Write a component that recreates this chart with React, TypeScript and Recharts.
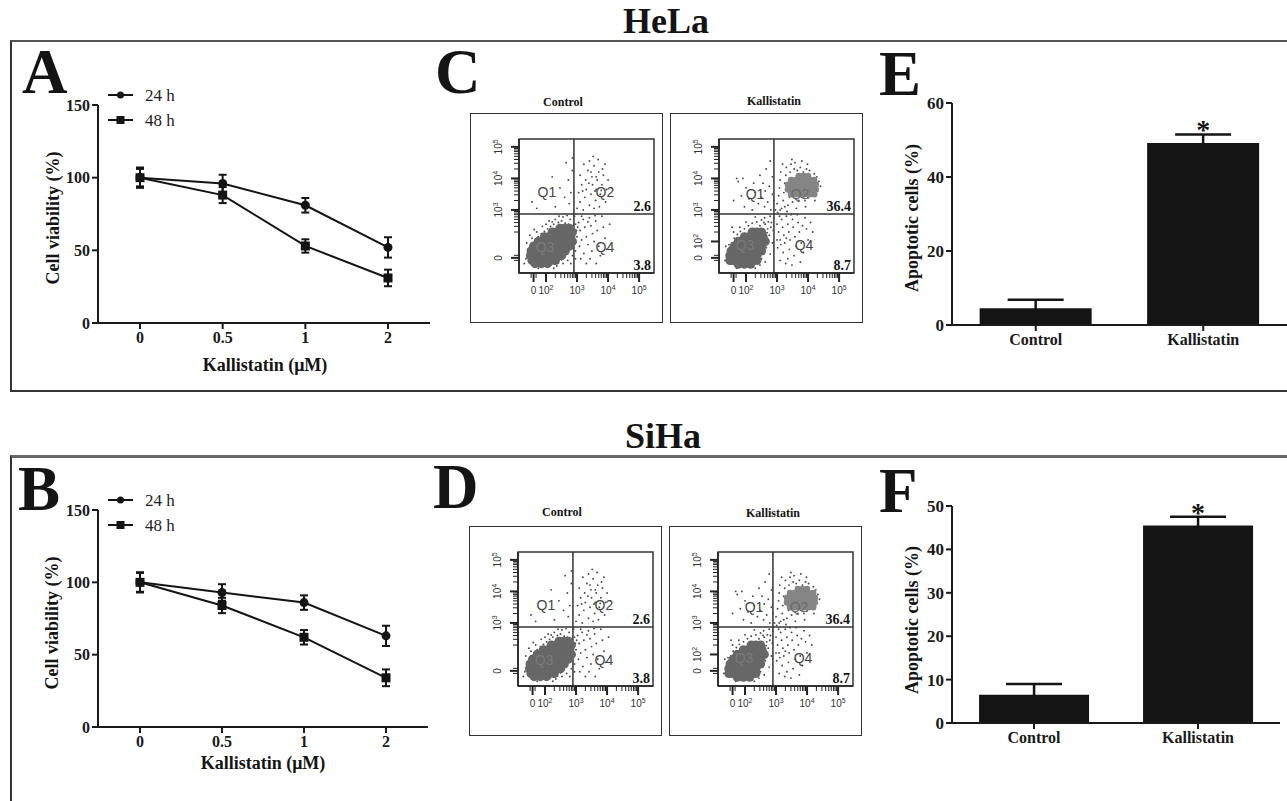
import React from 'react';
import {
  LineChart, Line, BarChart, Bar, ScatterChart, Scatter, XAxis, YAxis, ErrorBar,
  Legend, LabelList, ReferenceLine, ReferenceArea, ReferenceDot,
} from 'recharts';

const SERIF = "'Liberation Serif', 'Times New Roman', Times, serif";
const SANS = "'Liberation Sans', Arial, Helvetica, sans-serif";
const INK = '#141414';

// ---------------- Cell viability (A, B)
const doseLabels = ['0', '0.5', '1', '2'];
const helaViab24 = [100, 96, 81, 52];
const helaViab24Err = [7, 6, 5, 7];
const helaViab48 = [100, 88, 53, 31];
const helaViab48Err = [6, 5.5, 4.6, 5.7];
const sihaViab24 = [100, 93, 86, 63];
const sihaViab24Err = [7, 5.7, 5, 7];
const sihaViab48 = [100, 84, 62, 34];
const sihaViab48Err = [6.5, 5.3, 5, 5.8];
const viabTicks = [0, 50, 100, 150];

// ---------------- Apoptotic cells (E, F)
const groupLabels = ['Control', 'Kallistatin'];
const helaApop = [4.5, 49.2];
const helaApopErr = [2.3, 2.3];
const sihaApop = [6.5, 45.5];
const sihaApopErr = [2.5, 2.0];
const apopSig = ['', '*'];
const helaApopTicks = [0, 20, 40, 60];
const sihaApopTicks = [0, 10, 20, 30, 40, 50];

// ---------------- Flow cytometry (C, D) — axis units are decades
const flowXMajor = [1.6, 2, 3, 4, 5];
const flowXMajorLabels = ['0', '10|2', '10|3', '10|4', '10|5'];
const flowXMinor = [1.52, 1.68, 2.3, 2.48, 2.6, 2.7, 2.78, 2.85, 2.9, 2.95, 3.3, 3.48, 3.6, 3.7, 3.78, 3.85, 3.9, 3.95, 4.3, 4.48, 4.6, 4.7, 4.78, 4.85, 4.9, 4.95];
const flowYMajorControl = [1.48, 3, 4, 5];
const flowYLabelsControl = ['0', '10|3', '10|4', '10|5'];
const flowYMajorKall = [1.48, 2, 3, 4, 5];
const flowYLabelsKall = ['0', '10|2', '10|3', '10|4', '10|5'];
const flowYMinor = [1.4, 1.56, 2.3, 2.48, 2.6, 2.7, 2.78, 2.85, 2.9, 2.95, 3.3, 3.48, 3.6, 3.7, 3.78, 3.85, 3.9, 3.95, 4.3, 4.48, 4.6, 4.7, 4.78, 4.85, 4.9, 4.95];
const controlPct = ['2.6', '3.8'];
const kallPct = ['36.4', '8.7'];

const controlCore: number[][] = [
  [1.70, 1.40], [1.85, 1.40], [2.00, 1.40], [2.15, 1.40],
  [1.65, 1.55], [1.80, 1.55], [1.95, 1.55], [2.10, 1.55], [2.25, 1.55], [2.35, 1.55],
  [1.65, 1.70], [1.80, 1.70], [1.95, 1.70], [2.10, 1.70], [2.25, 1.70], [2.40, 1.70], [2.50, 1.70],
  [1.75, 1.85], [1.90, 1.85], [2.05, 1.85], [2.20, 1.85], [2.35, 1.85], [2.50, 1.85], [2.62, 1.85],
  [1.90, 2.00], [2.05, 2.00], [2.20, 2.00], [2.35, 2.00], [2.50, 2.00], [2.65, 2.00], [2.75, 2.00],
  [2.10, 2.15], [2.25, 2.15], [2.40, 2.15], [2.55, 2.15], [2.70, 2.15], [2.80, 2.15],
  [2.35, 2.30], [2.50, 2.30], [2.65, 2.30], [2.78, 2.30],
  [2.60, 2.42], [2.75, 2.42],
  [1.55, 1.40], [1.50, 1.55], [1.52, 1.70], [1.60, 1.85], [1.75, 2.00], [1.95, 2.15], [2.20, 2.30],
  [2.45, 2.42], [2.85, 2.30], [2.85, 2.00], [2.75, 1.85], [2.62, 1.70], [2.50, 1.55], [2.30, 1.40],
  [1.85, 1.30], [2.05, 1.30], [1.65, 1.30],
];
const controlDots: number[][] = [
  [1.45, 1.35], [1.50, 1.50], [1.48, 1.65], [1.52, 1.80], [1.58, 1.95], [1.65, 2.05], [1.75, 2.15], [1.85, 2.25],
  [1.95, 2.32], [2.05, 2.40], [2.15, 2.48], [2.25, 2.55], [2.40, 2.60], [2.50, 2.65], [2.62, 2.58], [2.72, 2.55],
  [2.85, 2.50], [2.88, 2.30], [2.90, 2.10], [2.85, 1.95], [2.78, 1.80], [2.70, 1.65], [2.62, 1.52], [2.50, 1.42],
  [2.40, 1.32], [2.28, 1.28], [2.15, 1.25], [2.00, 1.23], [1.85, 1.24], [1.70, 1.26], [1.58, 1.30], [1.40, 1.55],
  [1.42, 1.75], [1.55, 2.10], [1.70, 2.30], [2.00, 2.55], [2.30, 2.70], [2.55, 2.78], [2.78, 2.70], [2.95, 2.55],
  [2.98, 2.35], [3.00, 2.15], [2.95, 1.70], [2.85, 1.55], [2.70, 1.40], [2.55, 1.30], [1.35, 1.45], [1.62, 1.20],
  [2.35, 1.22], [2.20, 2.62], [1.38, 1.95], [1.48, 2.20], [1.62, 2.38], [1.88, 2.48], [2.10, 2.65], [2.42, 2.80],
  [2.68, 2.82], [2.92, 2.80], [3.02, 2.45], [2.95, 1.45], [2.80, 1.30], [1.30, 1.30], [1.75, 1.15], [2.25, 1.15],
  [3.05, 2.60], [3.10, 2.35], [3.15, 2.05], [3.08, 1.85], [3.20, 2.70], [3.25, 2.45], [3.30, 2.15], [3.35, 1.90],
  [3.22, 1.62], [3.40, 2.75], [3.45, 2.50], [3.50, 2.25], [3.55, 2.00], [3.48, 1.70], [3.42, 1.45], [3.60, 2.65],
  [3.65, 2.35], [3.70, 1.85], [3.75, 1.55], [3.62, 1.30], [3.85, 2.45], [3.90, 2.10], [3.95, 1.75], [3.80, 2.80],
  [3.12, 1.45], [3.30, 1.30], [4.05, 2.55], [3.15, 2.80], [3.35, 2.62], [3.58, 2.82],
  [3.00, 3.05], [3.10, 3.25], [3.05, 3.55], [3.15, 3.80], [3.10, 4.10], [3.20, 3.00], [3.25, 3.40], [3.30, 3.65],
  [3.28, 3.95], [3.35, 4.25], [3.40, 3.15], [3.45, 3.50], [3.50, 3.80], [3.48, 4.05], [3.55, 4.40], [3.60, 3.30],
  [3.62, 3.65], [3.65, 3.95], [3.70, 4.20], [3.68, 4.60], [3.75, 3.50], [3.80, 3.80], [3.85, 4.10], [3.90, 4.45],
  [3.95, 3.65], [4.00, 3.95], [4.10, 3.70], [3.40, 4.55], [3.55, 3.05], [3.72, 3.10], [3.38, 3.85], [3.58, 3.60],
  [3.82, 4.30], [3.22, 4.45], [3.52, 4.70], [3.92, 3.25], [3.18, 3.60], [3.45, 4.20], [3.62, 4.05], [3.78, 3.62],
  [2.75, 3.20], [2.80, 3.55], [2.72, 3.95], [2.85, 4.25], [2.65, 4.50], [2.30, 3.10], [1.70, 3.05], [1.55, 3.25],
  [2.45, 3.70], [2.85, 4.65], [2.60, 3.40], [2.20, 4.05],
];
const kallCore: number[][] = [
  [1.60, 1.40], [1.75, 1.40], [1.90, 1.40], [2.05, 1.40], [2.20, 1.40],
  [1.60, 1.55], [1.75, 1.55], [1.90, 1.55], [2.05, 1.55], [2.20, 1.55], [2.35, 1.55],
  [1.65, 1.70], [1.80, 1.70], [1.95, 1.70], [2.10, 1.70], [2.25, 1.70], [2.40, 1.70],
  [1.75, 1.85], [1.90, 1.85], [2.05, 1.85], [2.20, 1.85], [2.35, 1.85], [2.50, 1.85],
  [1.90, 2.00], [2.05, 2.00], [2.20, 2.00], [2.35, 2.00], [2.50, 2.00],
  [2.10, 2.15], [2.25, 2.15], [2.40, 2.15], [2.55, 2.15],
  [2.35, 2.30], [2.50, 2.30],
  [1.48, 1.40], [1.48, 1.55], [1.52, 1.70], [1.62, 1.85], [1.75, 2.00], [1.95, 2.15], [2.20, 2.30],
  [2.62, 2.00], [2.50, 1.70], [2.35, 1.40], [1.75, 1.28], [1.95, 1.28], [2.15, 1.28],
];
const kallCoreQ2: number[][] = [
  [3.45, 3.50], [3.60, 3.50], [3.75, 3.50], [3.90, 3.50], [4.05, 3.50], [4.20, 3.50],
  [3.35, 3.65], [3.50, 3.65], [3.65, 3.65], [3.80, 3.65], [3.95, 3.65], [4.10, 3.65], [4.25, 3.65],
  [3.35, 3.80], [3.50, 3.80], [3.65, 3.80], [3.80, 3.80], [3.95, 3.80], [4.10, 3.80], [4.25, 3.80],
  [3.45, 3.95], [3.60, 3.95], [3.75, 3.95], [3.90, 3.95], [4.05, 3.95], [4.20, 3.95],
  [3.70, 4.08], [3.85, 4.08], [4.00, 4.08],
];
const kallDots: number[][] = [
  [1.40, 1.35], [1.45, 1.55], [1.48, 1.75], [1.55, 1.95], [1.62, 2.10], [1.72, 2.22], [1.82, 2.32], [1.95, 2.40],
  [2.08, 2.50], [2.20, 2.58], [2.35, 2.62], [2.50, 2.68], [2.62, 2.55], [2.70, 2.40], [2.75, 2.20], [2.72, 2.00],
  [2.65, 1.80], [2.58, 1.62], [2.50, 1.45], [2.40, 1.32], [2.25, 1.25], [2.10, 1.22], [1.95, 1.22], [1.80, 1.23],
  [1.65, 1.25], [1.52, 1.28], [1.38, 1.60], [1.45, 1.90], [1.60, 2.30], [1.80, 2.45], [2.00, 2.62], [2.30, 2.78],
  [2.60, 2.75], [2.82, 2.60], [2.88, 2.35], [2.85, 1.95], [2.78, 1.60], [2.62, 1.35], [1.35, 1.85], [1.55, 2.45],
  [2.45, 2.50], [2.58, 2.20], [2.65, 2.05], [2.78, 2.80], [2.90, 2.75], [2.45, 1.25],
  [2.55, 2.40], [2.68, 2.28], [2.72, 2.62], [2.80, 2.45], [2.58, 2.60], [1.32, 1.40], [1.70, 1.15], [2.30, 1.15],
  [3.00, 2.55], [3.05, 2.30], [3.10, 2.05], [3.02, 1.80], [3.15, 2.70], [3.18, 2.45], [3.22, 2.20], [3.25, 1.95],
  [3.20, 1.65], [3.30, 2.80], [3.35, 2.55], [3.38, 2.30], [3.42, 2.05], [3.40, 1.75], [3.35, 1.45], [3.50, 2.70],
  [3.52, 2.45], [3.58, 2.15], [3.62, 1.85], [3.55, 1.55], [3.68, 2.60], [3.72, 2.30], [3.78, 1.95], [3.85, 1.65],
  [3.75, 1.35], [3.90, 2.75], [3.95, 2.40], [4.00, 2.05], [4.08, 2.60], [3.10, 1.40], [3.28, 1.30], [3.45, 2.85],
  [3.65, 2.85], [3.08, 2.80], [3.48, 1.25], [4.15, 2.30], [3.82, 2.50], [3.00, 2.05], [3.12, 1.90], [3.30, 2.10],
  [2.95, 3.00], [3.00, 3.20], [3.05, 3.45], [3.08, 3.70], [3.10, 3.95], [3.12, 4.20], [3.15, 3.05], [3.20, 3.30],
  [3.22, 3.55], [3.25, 3.85], [3.28, 4.10], [3.30, 4.35], [3.35, 3.15], [3.40, 3.40], [3.42, 4.20], [3.45, 4.45],
  [3.50, 3.25], [3.55, 4.30], [3.60, 3.35], [3.65, 4.25], [3.70, 3.30], [3.75, 4.35], [3.80, 3.40], [3.85, 4.20],
  [3.90, 3.30], [3.95, 4.30], [4.00, 3.40], [4.05, 4.25], [4.15, 3.45], [4.20, 4.15], [4.30, 3.60], [4.35, 3.90],
  [4.28, 4.05], [4.40, 3.75], [3.18, 4.45], [3.58, 4.50], [3.98, 4.45], [3.02, 2.92], [3.32, 2.95], [3.62, 3.05],
  [3.92, 3.10], [4.22, 3.30], [3.48, 4.60], [3.80, 4.55], [3.10, 3.00], [3.25, 3.10],
  [2.80, 3.00], [2.70, 3.25], [2.85, 3.50], [2.60, 3.10], [2.50, 3.40], [2.75, 3.75], [2.40, 3.20], [2.30, 3.55],
  [2.55, 3.85], [2.85, 4.05], [2.20, 3.00], [2.10, 3.35], [1.95, 3.10], [1.85, 3.45], [2.00, 3.70], [1.75, 3.90],
  [1.70, 4.00], [2.45, 4.10], [2.65, 4.30], [2.78, 4.55], [1.90, 4.00], [2.25, 3.85], [1.60, 3.30], [2.90, 3.30],
  [2.62, 3.60],
];

const toPts = (arr: number[][]) => arr.map(([u, v]) => ({ u, v }));

// ---------------- helpers
const tickFontLine = { fill: '#1a1a1a', fontSize: 16, fontWeight: 'bold', fontFamily: SERIF };
const tickFontBar = { fill: '#1a1a1a', fontSize: 17, fontWeight: 'bold', fontFamily: SERIF };
const axisStroke = { stroke: '#1a1a1a', strokeWidth: 2 };

const ViabLegend = (props: any) => {
  const payload = props.payload || [];
  return (
    <svg width={90} height={45} style={{ overflow: 'visible' }}>
      {payload.map((p: any, i: number) => (
        <g key={i} transform={`translate(0, ${8 + i * 25})`}>
          <line x1={3} x2={28} y1={0} y2={0} stroke={INK} strokeWidth={2} />
          {p.dataKey === 'h48'
            ? <rect x={11.5} y={-4} width={8} height={8} fill={INK} />
            : <circle cx={15.5} cy={0} r={3.5} fill={INK} />}
          <text x={40} y={0} dy="0.35em" fontSize={17} fontFamily={SERIF} fill="#222">{p.value}</text>
        </g>
      ))}
    </svg>
  );
};

const circleDot = (p: any) => <circle key={`c${p.index}`} cx={p.cx} cy={p.cy} r={4.5} fill={INK} />;
const squareDot = (p: any) => <rect key={`s${p.index}`} x={p.cx - 4.5} y={p.cy - 4.5} width={9} height={9} fill={INK} />;

function ViabilityChart(props: { v24: number[]; e24: number[]; v48: number[]; e48: number[]; margin: any; legendTop: number }) {
  const data = doseLabels.map((d, i) => ({ dose: d, h24: props.v24[i], e24: props.e24[i], h48: props.v48[i], e48: props.e48[i] }));
  return (
    <LineChart width={440} height={350} data={data} margin={props.margin}>
      <XAxis dataKey="dose" height={30} padding={{ left: 42, right: 42 }} axisLine={axisStroke} tickLine={axisStroke} tickSize={6} tickMargin={3} tick={tickFontLine} />
      <YAxis domain={[0, 150]} ticks={viabTicks} width={40} axisLine={axisStroke} tickLine={axisStroke} tickSize={6} tickMargin={2} tick={tickFontLine} />
      <Legend layout="vertical" align="center" verticalAlign="middle" content={<ViabLegend />} wrapperStyle={{ left: 105, top: props.legendTop, width: 90, height: 45 }} />
      <Line dataKey="h24" name="24 h" stroke={INK} strokeWidth={2} dot={circleDot} isAnimationActive={false}>
        <ErrorBar dataKey="e24" direction="y" width={4} stroke={INK} strokeWidth={2} />
      </Line>
      <Line dataKey="h48" name="48 h" stroke={INK} strokeWidth={2} dot={squareDot} isAnimationActive={false}>
        <ErrorBar dataKey="e48" direction="y" width={4} stroke={INK} strokeWidth={2} />
      </Line>
    </LineChart>
  );
}

const AsteriskLabel = (p: any) => {
  if (!p.value) return null;
  return (
    <text x={p.x + p.width / 2} y={p.y - 4} textAnchor="middle" fontSize={28} fontWeight="bold" fontFamily={SERIF} fill={INK}>{p.value}</text>
  );
};

function ApopChart(props: { vals: number[]; errs: number[]; ticks: number[]; max: number; margin: any }) {
  const data = groupLabels.map((g, i) => ({ group: g, val: props.vals[i], err: props.errs[i], sig: apopSig[i] }));
  return (
    <BarChart width={407} height={350} data={data} margin={props.margin} barCategoryGap="16.5%">
      <XAxis dataKey="group" height={30} axisLine={axisStroke} tickLine={axisStroke} tickSize={6} tickMargin={3} tick={{ ...tickFontBar, fontSize: 16 }} />
      <YAxis domain={[0, props.max]} ticks={props.ticks} width={40} axisLine={axisStroke} tickLine={axisStroke} tickSize={6} tickMargin={2} tick={tickFontBar} />
      <Bar dataKey="val" fill={INK} isAnimationActive={false}>
        <ErrorBar dataKey="err" direction="y" width={28} stroke={INK} strokeWidth={2.5} />
        <LabelList dataKey="sig" content={<AsteriskLabel />} />
      </Bar>
    </BarChart>
  );
}

// ---------------- flow ticks
const splitLabel = (s: string) => s.split('|');

const FlowXTick = (props: any) => {
  const { x, y, payload } = props;
  const idx = flowXMajor.indexOf(payload.value);
  const major = idx >= 0;
  const parts = major ? splitLabel(flowXMajorLabels[idx]) : null;
  return (
    <g>
      <line x1={x} x2={x} y1={y} y2={y + (major ? 9 : 5)} stroke="#222" strokeWidth={major ? 2 : 1} />
      {parts && (
        <text x={x} y={y + 21} textAnchor="middle" fontSize={10} fontFamily={SANS} fill="#333">
          {parts[0]}{parts[1] && <tspan dy={-4} fontSize={7}>{parts[1]}</tspan>}
        </text>
      )}
    </g>
  );
};

const makeFlowYTick = (majors: number[], labels: string[]) => (props: any) => {
  const { x, y, payload } = props;
  const idx = majors.indexOf(payload.value);
  const major = idx >= 0;
  const parts = major ? splitLabel(labels[idx]) : null;
  const lx = x - 17;
  return (
    <g>
      <line x1={x} x2={x - (major ? 8 : 5)} y1={y} y2={y} stroke="#222" strokeWidth={major ? 2 : 1} />
      {parts && (
        <text x={lx} y={y} transform={`rotate(-90, ${lx}, ${y})`} textAnchor="middle" fontSize={10} fontFamily={SANS} fill="#333">
          {parts[0]}{parts[1] && <tspan dy={-4} fontSize={7}>{parts[1]}</tspan>}
        </text>
      )}
    </g>
  );
};

const FlowYTickControl = makeFlowYTick(flowYMajorControl, flowYLabelsControl);
const FlowYTickKall = makeFlowYTick(flowYMajorKall, flowYLabelsKall);

const X0 = 1.13, X1 = 5.48, Y0 = 1.0, Y1 = 5.25, QX = 2.9, QY = 2.87;

const PctLabel = (text: string) => (p: any) => {
  const vb = p.viewBox || {};
  return (
    <text x={vb.x - 3} y={vb.y - 3} textAnchor="end" fontSize={14} fontWeight="bold" fontFamily={SERIF} fill={INK}>{text}</text>
  );
};

const qLabel = (t: string, color = '#444') => ({ value: t, position: 'center' as const, fill: color, fontSize: 14, fontFamily: SANS });

function FlowPlot(props: { kind: 'control' | 'kall' }) {
  const isK = props.kind === 'kall';
  const core = toPts(isK ? kallCore : controlCore);
  const dots = toPts(isK ? kallDots : controlDots);
  const core2 = isK ? toPts(kallCoreQ2) : [];
  const pct = isK ? kallPct : controlPct;
  const yMajor = isK ? flowYMajorKall : flowYMajorControl;
  const yTicks = [...yMajor, ...flowYMinor];
  const q = isK
    ? { q1: [2.29, 3.51], q2: [3.74, 3.51], q3: [1.97, 1.89], q4: [3.87, 1.89] }
    : { q1: [2.03, 3.57], q2: [3.90, 3.57], q3: [1.97, 1.83], q4: [3.90, 1.83] };
  return (
    <ScatterChart width={193} height={210} margin={{ top: 26, right: 9, bottom: 20, left: 19 }}>
      <XAxis type="number" dataKey="u" domain={[X0, X1]} allowDataOverflow ticks={[...flowXMajor, ...flowXMinor]} interval={0}
        tick={<FlowXTick />} tickLine={false} tickSize={0} tickMargin={0} axisLine={{ stroke: '#222', strokeWidth: 1.5 }} height={30} />
      <YAxis type="number" dataKey="v" domain={[Y0, Y1]} allowDataOverflow ticks={yTicks} interval={0}
        tick={isK ? <FlowYTickKall /> : <FlowYTickControl />} tickLine={false} tickSize={0} tickMargin={0} axisLine={{ stroke: '#222', strokeWidth: 1.5 }} width={30} />
      <ReferenceArea x1={X0} x2={X1} y1={Y0} y2={Y1} fill="none" stroke="#333" strokeWidth={1.5} />
      <Scatter data={dots} isAnimationActive={false} shape={(p: any) => <circle cx={p.cx} cy={p.cy} r={0.95} fill="#4a4a4a" />} />
      {isK && <Scatter data={core2} isAnimationActive={false} shape={(p: any) => <circle cx={p.cx} cy={p.cy} r={3.2} fill="#858585" />} />}
      <Scatter data={core} isAnimationActive={false} shape={(p: any) => <circle cx={p.cx} cy={p.cy} r={4.6} fill="#676767" />} />
      <ReferenceLine x={QX} stroke="#333" strokeWidth={1.5} />
      <ReferenceLine y={QY} stroke="#333" strokeWidth={1.5} />
      <ReferenceDot x={q.q3[0]} y={q.q3[1]} r={0} fill="none" stroke="none" label={qLabel('Q3', '#7a7a7a')} />
      <ReferenceDot x={q.q1[0]} y={q.q1[1]} r={0} fill="none" stroke="none" label={qLabel('Q1')} />
      <ReferenceDot x={q.q2[0]} y={q.q2[1]} r={0} fill="none" stroke="none" label={qLabel('Q2', isK ? '#6a6a6a' : '#444')} />
      <ReferenceDot x={q.q4[0]} y={q.q4[1]} r={0} fill="none" stroke="none" label={qLabel('Q4')} />
      <ReferenceDot x={X1} y={QY} r={0} fill="none" stroke="none" label={PctLabel(pct[0])} />
      <ReferenceDot x={X1} y={Y0} r={0} fill="none" stroke="none" label={PctLabel(pct[1])} />
    </ScatterChart>
  );
}

// ---------------- layout
const abs = (left: number, top: number, extra: any = {}) => ({ position: 'absolute' as const, left, top, ...extra });

export default function App() {
  return (
    <div style={{ position: 'absolute', left: 0, top: 0, width: 1287, height: 801, overflow: 'hidden', background: '#fff', fontFamily: SERIF }}>
      {/* panel frames */}
      <div style={abs(10, 40, { width: 1300, height: 348, borderTop: '2px solid #555', borderLeft: '2px solid #333', borderBottom: '2px solid #333' })} />
      <div style={abs(10, 455, { width: 1300, height: 400, borderTop: '3px solid #666', borderLeft: '2px solid #333' })} />

      {/* flow boxes */}
      <div style={abs(470, 113, { width: 191, height: 208, border: '1.5px solid #333' })} />
      <div style={abs(670, 113, { width: 191, height: 208, border: '1.5px solid #333' })} />
      <div style={abs(469, 526, { width: 191, height: 208, border: '1.5px solid #333' })} />
      <div style={abs(669, 526, { width: 191, height: 208, border: '1.5px solid #333' })} />

      {/* A */}
      <div style={abs(0, 40)}>
        <ViabilityChart v24={helaViab24} e24={helaViab24Err} v48={helaViab48} e48={helaViab48Err} legendTop={47}
          margin={{ top: 65, right: 10, bottom: 37, left: 58 }} />
      </div>
      {/* B */}
      <div style={abs(0, 450)}>
        <ViabilityChart v24={sihaViab24} e24={sihaViab24Err} v48={sihaViab48} e48={sihaViab48Err} legendTop={42}
          margin={{ top: 60, right: 12, bottom: 43, left: 58 }} />
      </div>
      {/* E */}
      <div style={abs(880, 40)}>
        <ApopChart vals={helaApop} errs={helaApopErr} ticks={helaApopTicks} max={60} margin={{ top: 63, right: 0, bottom: 35, left: 32 }} />
      </div>
      {/* F */}
      <div style={abs(880, 450)}>
        <ApopChart vals={sihaApop} errs={sihaApopErr} ticks={sihaApopTicks} max={50} margin={{ top: 56, right: 7, bottom: 47, left: 32 }} />
      </div>
      {/* C */}
      <div style={abs(470, 113)}><FlowPlot kind="control" /></div>
      <div style={abs(670, 113)}><FlowPlot kind="kall" /></div>
      {/* D */}
      <div style={abs(469, 526)}><FlowPlot kind="control" /></div>
      <div style={abs(669, 526)}><FlowPlot kind="kall" /></div>

      {/* text overlay */}
      <svg width={1287} height={801} style={{ position: 'absolute', left: 0, top: 0, pointerEvents: 'none' }}>
        <g fontFamily={SERIF} fontWeight="bold" fill={INK}>
          <text x={666} y={33} fontSize={36} textAnchor="middle">HeLa</text>
          <text x={663} y={448} fontSize={36} textAnchor="middle">SiHa</text>
          <text x={22} y={93} fontSize={63}>A</text>
          <text x={435} y={93} fontSize={63}>C</text>
          <text x={879} y={95} fontSize={63}>E</text>
          <text x={18} y={510} fontSize={63}>B</text>
          <text x={433} y={508} fontSize={63}>D</text>
          <text x={879} y={512} fontSize={63}>F</text>
          <text x={265} y={371} fontSize={18} textAnchor="middle">Kallistatin (μM)</text>
          <text x={263} y={769} fontSize={18} textAnchor="middle">Kallistatin (μM)</text>
          <text x={59} y={218} fontSize={18} textAnchor="middle" transform="rotate(-90, 59, 218)">Cell viability (%)</text>
          <text x={58} y={623} fontSize={18} textAnchor="middle" transform="rotate(-90, 58, 623)">Cell viability (%)</text>
          <text x={918} y={218} fontSize={18} textAnchor="middle" transform="rotate(-90, 918, 218)">Apoptotic cells (%)</text>
          <text x={918} y={620} fontSize={18} textAnchor="middle" transform="rotate(-90, 918, 620)">Apoptotic cells (%)</text>
          <text x={563} y={106} fontSize={12} textAnchor="middle">Control</text>
          <text x={774} y={105} fontSize={12} textAnchor="middle">Kallistatin</text>
          <text x={562} y={516} fontSize={12} textAnchor="middle">Control</text>
          <text x={773} y={517} fontSize={12} textAnchor="middle">Kallistatin</text>
        </g>
      </svg>
    </div>
  );
}
